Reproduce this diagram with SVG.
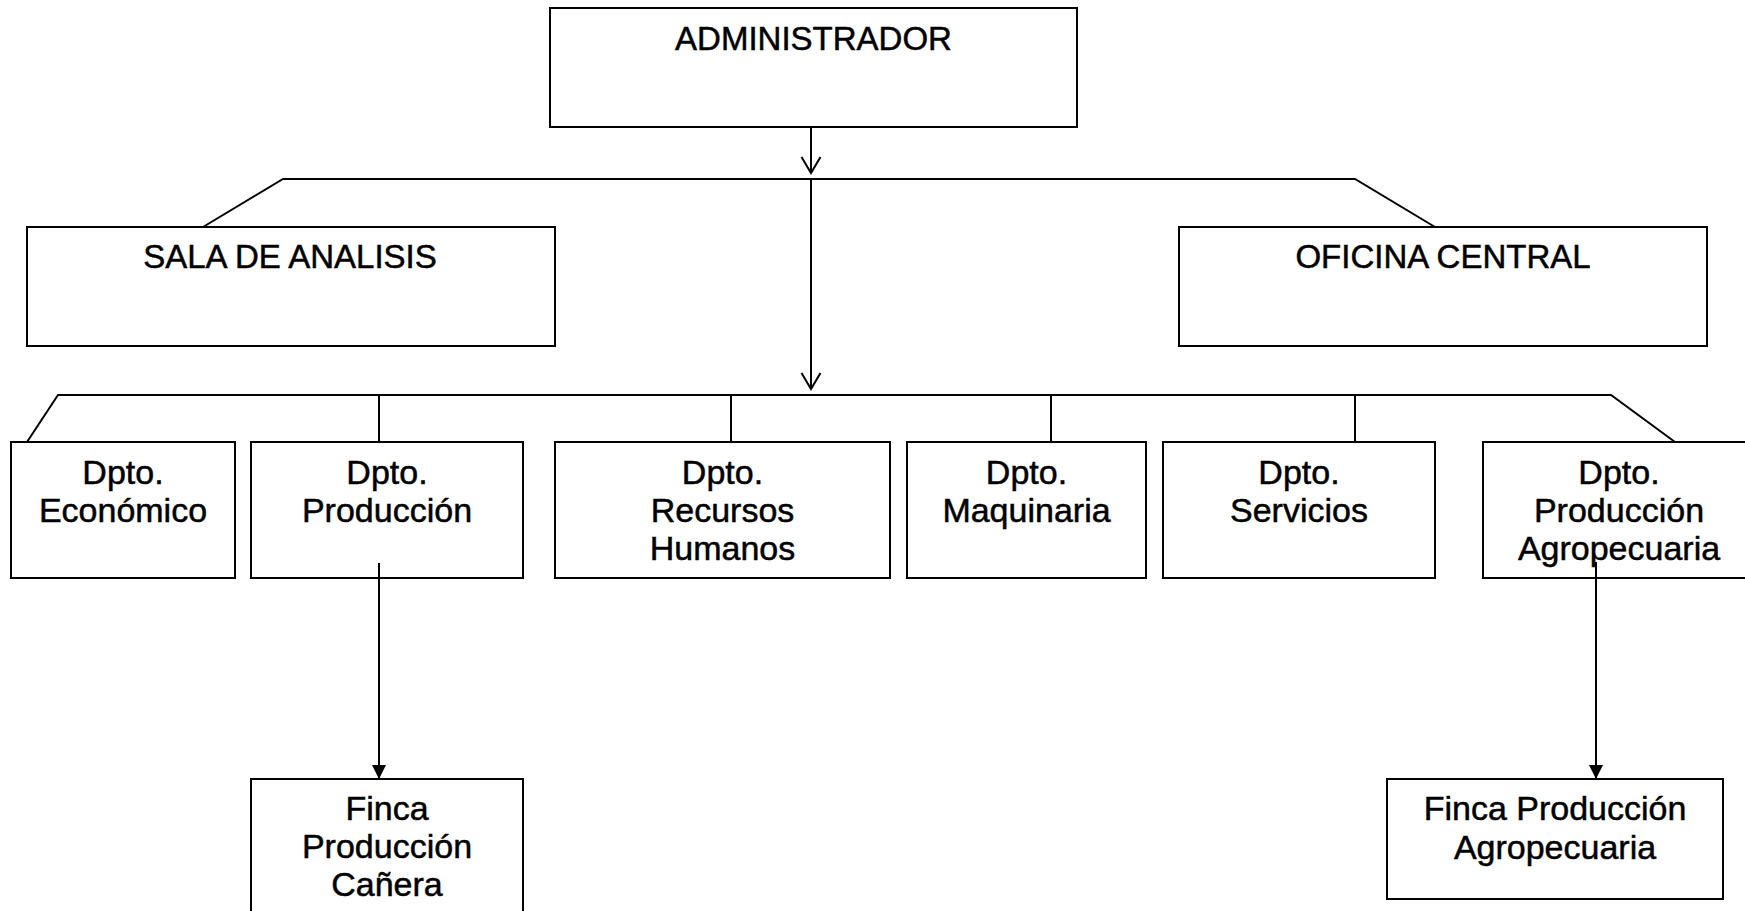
<svg xmlns="http://www.w3.org/2000/svg" width="1745" height="911" viewBox="0 0 1745 911">
<style>
.box{fill:#fff;stroke:#000;stroke-width:2}
.ln{fill:none;stroke:#000;stroke-width:2}
.t{font-family:"Liberation Sans",Arial,sans-serif;fill:#000;stroke:#000;stroke-width:0.5;text-anchor:middle}
.h{font-size:33px}
.d{font-size:34px}
</style>
<defs>
<marker id="open" markerUnits="userSpaceOnUse" viewBox="-1 -11 19 22" markerWidth="19" markerHeight="22" refX="16" refY="0" orient="auto">
<path d="M0,-9.5 L16,0 L0,9.5" fill="none" stroke="#000" stroke-width="2"/>
</marker>
<marker id="fill" markerUnits="userSpaceOnUse" viewBox="0 -8 15 16" markerWidth="15" markerHeight="16" refX="14" refY="0" orient="auto">
<path d="M0,-7 L14,0 L0,7 Z" fill="#000"/>
</marker>
</defs>
<rect width="1745" height="911" fill="#fff"/>
<g id="admin"><rect class="box" x="550" y="8" width="527" height="119"/><text class="t h" x="813.5" y="50">ADMINISTRADOR</text></g>
<g id="sala"><rect class="box" x="27" y="227" width="528" height="119"/><text class="t h" x="290" y="268">SALA DE ANALISIS</text></g>
<g id="oficina"><rect class="box" x="1179" y="227" width="528" height="119"/><text class="t h" x="1443" y="268">OFICINA CENTRAL</text></g>
<g id="economico"><rect class="box" x="11" y="442" width="224" height="136"/><text class="t d" x="123" y="484">Dpto.<tspan x="123" y="522">Económico</tspan></text></g>
<g id="produccion"><rect class="box" x="251" y="442" width="272" height="136"/><text class="t d" x="387" y="484">Dpto.<tspan x="387" y="522">Producción</tspan></text></g>
<g id="rrhh"><rect class="box" x="555" y="442" width="335" height="136"/><text class="t d" x="722.5" y="484">Dpto.<tspan x="722.5" y="522">Recursos</tspan><tspan x="722.5" y="560">Humanos</tspan></text></g>
<g id="maquinaria"><rect class="box" x="907" y="442" width="239" height="136"/><text class="t d" x="1026.5" y="484">Dpto.<tspan x="1026.5" y="522">Maquinaria</tspan></text></g>
<g id="servicios"><rect class="box" x="1163" y="442" width="272" height="136"/><text class="t d" x="1299" y="484">Dpto.<tspan x="1299" y="522">Servicios</tspan></text></g>
<g id="agro"><rect class="box" x="1483" y="442" width="272" height="136"/><text class="t d" x="1619" y="484">Dpto.<tspan x="1619" y="522">Producción</tspan><tspan x="1619" y="560">Agropecuaria</tspan></text></g>
<g id="finca-canera"><rect class="box" x="251" y="779" width="272" height="140"/><text class="t d" x="387" y="820">Finca<tspan x="387" y="858">Producción</tspan><tspan x="387" y="896">Cañera</tspan></text></g>
<g id="finca-agro"><rect class="box" x="1387" y="779" width="336" height="120"/><text class="t d" x="1555" y="820">Finca Producción<tspan x="1555" y="859">Agropecuaria</tspan></text></g>
<g id="connectors">
<line class="ln" x1="811" y1="127" x2="811" y2="173" marker-end="url(#open)"/>
<polyline class="ln" points="203,227 283,179 1355,179 1435,227"/>
<line class="ln" x1="811" y1="179" x2="811" y2="389" marker-end="url(#open)"/>
<polyline class="ln" points="27,442 58,395 1611,395 1675,442"/>
<line class="ln" x1="379" y1="395" x2="379" y2="442"/>
<line class="ln" x1="731" y1="395" x2="731" y2="442"/>
<line class="ln" x1="1051" y1="395" x2="1051" y2="442"/>
<line class="ln" x1="1355" y1="395" x2="1355" y2="442"/>
<line class="ln" x1="379" y1="563" x2="379" y2="779" marker-end="url(#fill)"/>
<line class="ln" x1="1596" y1="562" x2="1596" y2="779" marker-end="url(#fill)"/>
</g>
</svg>
